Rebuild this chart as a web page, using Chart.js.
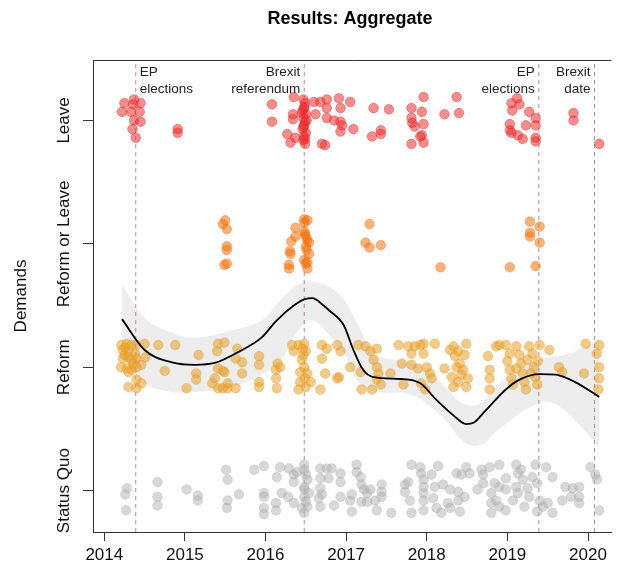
<!DOCTYPE html>
<html>
<head>
<meta charset="utf-8">
<script src="https://cdn.jsdelivr.net/npm/chart.js@4/dist/chart.umd.min.js"></script>
<style>
  html, body { margin: 0; padding: 0; background: #fff; }
  #wrap { width: 617px; height: 576px; }
</style>
</head>
<body>
<div id="wrap"><canvas id="chart" width="617" height="576"></canvas></div>
<script>
// Categories (y = 1..4) and x ticks
const categories = ['Status Quo', 'Reform', 'Reform or Leave', 'Leave'];
const xTicks = [2014, 2015, 2016, 2017, 2018, 2019, 2020];

// Key events (decimal year)
const eventDates = [2014.39, 2016.48, 2019.39, 2020.08];
const eventLabels = [['EP', 'elections'], ['Brexit', 'referendum'], ['EP', 'elections'], ['Brexit', 'date']];

// Jittered observations: [year, category value]
const leavePts = [
  [2014.25,4.14],[2014.37,4.17],[2014.45,4.14],[2014.22,4.07],[2014.33,4.07],[2014.44,4.07],
  [2014.37,4.00],[2014.45,3.99],[2014.35,3.93],[2014.39,3.86],[2014.36,4.13],
  [2014.91,3.93],[2014.91,3.90],
  [2016.08,4.13],[2016.08,3.99],[2016.35,4.19],[2016.34,4.05],[2016.34,4.01],[2016.27,3.89],
  [2016.31,3.82],[2016.37,3.86],
  [2016.47,4.17],[2016.49,4.14],[2016.48,4.11],[2016.46,4.08],[2016.50,4.05],[2016.47,4.02],
  [2016.49,3.99],[2016.48,3.96],[2016.46,3.93],[2016.50,3.90],[2016.48,3.87],[2016.47,3.84],
  [2016.49,3.81],[2016.48,4.10],[2016.47,3.95],[2016.49,3.85],[2016.51,4.00],[2016.45,4.06],
  [2016.60,4.15],[2016.62,4.05],[2016.68,4.15],[2016.76,4.17],[2016.76,4.10],[2016.76,4.02],
  [2016.91,4.18],[2016.93,4.10],[2016.93,3.99],[2016.95,3.96],[2016.93,3.91],[2017.05,4.15],
  [2016.70,3.81],[2016.74,3.80],[2016.85,4.00],[2017.09,3.93],
  [2017.34,4.10],[2017.53,4.09],[2017.32,3.87],[2017.43,3.92],[2017.43,3.89],
  [2017.81,4.10],[2017.81,4.02],[2017.82,3.98],[2017.85,3.95],[2017.96,4.19],[2017.94,4.07],
  [2017.96,3.97],[2017.94,3.88],[2017.81,3.81],[2017.96,3.82],[2017.92,3.87],
  [2018.22,4.05],[2018.37,4.19],[2018.40,4.06],
  [2019.05,4.14],[2019.12,4.18],[2019.15,4.13],[2019.06,4.08],[2019.27,4.07],[2019.35,4.02],
  [2019.03,3.97],[2019.03,3.92],[2019.23,3.96],[2019.35,3.96],[2019.13,3.88],[2019.19,3.85],
  [2019.35,3.86],[2019.35,3.83],[2019.05,3.90],
  [2019.82,4.06],[2019.82,4.00],[2020.14,3.81]
];

const reformOrLeavePts = [
  [2015.50,3.19],[2015.47,3.16],[2015.52,3.12],[2015.52,2.98],[2015.52,2.95],[2015.49,2.83],[2015.52,2.84],
  [2016.37,3.13],[2016.37,3.06],[2016.32,3.02],[2016.30,2.94],[2016.31,2.92],[2016.29,2.83],[2016.29,2.80],
  [2016.48,3.20],[2016.52,3.19],[2016.48,3.17],[2016.48,3.10],[2016.50,3.06],[2016.52,3.03],
  [2016.54,3.01],[2016.50,2.98],[2016.54,2.92],[2016.48,2.87],[2016.52,2.85],[2016.52,2.80],
  [2016.50,2.84],[2016.49,3.08],[2016.51,2.95],
  [2017.29,3.16],[2017.24,3.01],[2017.29,2.97],[2017.43,2.99],
  [2018.17,2.81],[2019.03,2.81],
  [2019.28,3.18],[2019.28,3.09],[2019.28,3.06],[2019.40,3.14],[2019.40,3.01],[2019.35,2.82]
];

const reformPts = [
  [2014.21,2.18],[2014.28,2.19],[2014.34,2.18],[2014.40,2.18],[2014.23,2.14],[2014.30,2.13],
  [2014.38,2.11],[2014.23,2.07],[2014.30,2.08],[2014.34,2.06],[2014.40,2.07],[2014.21,2.00],
  [2014.28,1.99],[2014.34,1.98],[2014.40,2.00],[2014.46,2.02],[2014.30,1.96],[2014.40,1.90],
  [2014.30,1.84],[2014.40,1.83],[2014.46,1.87],[2014.51,2.08],[2014.50,2.19],[2014.25,2.10],
  [2014.36,2.03],[2014.26,2.16],
  [2014.67,2.18],[2014.88,2.18],[2015.17,2.10],[2014.75,1.97],[2015.14,1.95],[2015.14,1.90],
  [2015.02,1.83],
  [2015.41,2.19],[2015.49,2.20],[2015.40,2.13],[2015.65,2.15],[2015.63,2.07],[2015.71,2.04],
  [2015.41,1.99],[2015.47,1.97],[2015.49,1.96],[2015.37,1.91],[2015.71,1.95],[2015.34,1.87],
  [2015.41,1.83],[2015.47,1.83],[2015.53,1.87],[2015.53,1.83],[2015.63,1.83],
  [2015.92,2.09],[2015.92,2.02],[2015.92,1.88],[2015.92,1.84],
  [2016.15,2.03],[2016.13,1.98],[2016.13,1.91],[2016.14,1.83],[2016.18,2.00],
  [2016.33,2.18],[2016.41,2.18],[2016.35,2.13],[2016.48,2.19],[2016.50,2.13],[2016.45,2.06],
  [2016.48,2.00],[2016.43,1.96],[2016.52,1.95],[2016.43,1.88],[2016.50,1.84],[2016.41,1.82],
  [2016.56,1.88],[2016.47,2.10],[2016.49,1.91],[2016.46,2.15],
  [2016.70,2.18],[2016.76,2.15],[2016.89,2.18],[2016.93,2.13],[2016.70,2.07],[2016.74,1.95],
  [2016.91,1.92],[2016.89,1.91],[2016.68,1.82],[2017.05,2.00],
  [2017.15,2.18],[2017.24,2.17],[2017.18,1.96],[2017.19,1.82],[2017.32,1.82],[2017.30,2.13],
  [2017.34,2.06],[2017.38,2.15],[2017.38,2.00],[2017.40,1.95],[2017.38,1.90],[2017.43,1.86],
  [2017.55,1.95],[2017.65,2.18],[2017.69,2.03],[2017.71,1.86],[2017.77,2.17],[2017.81,2.11],
  [2017.85,2.17],[2017.92,2.18],[2017.96,2.19],[2017.81,2.02],[2017.89,1.99],[2017.96,2.11],
  [2018.00,2.00],[2018.04,1.95],[2017.93,1.87],[2017.98,1.82],[2018.10,2.19],[2018.06,1.91],
  [2018.22,1.99],[2018.29,2.14],[2018.33,2.17],[2018.31,1.92],[2018.35,2.09],[2018.37,2.00],
  [2018.39,2.13],[2018.41,2.03],[2018.43,1.94],[2018.39,1.88],[2018.45,1.98],[2018.47,2.10],
  [2018.49,2.19],[2018.51,1.91],[2018.49,1.84],[2018.33,1.84],
  [2018.76,2.09],[2018.78,1.98],[2018.78,1.91],[2018.78,1.82],[2018.86,2.17],[2018.90,2.18],
  [2018.98,2.18],[2019.03,2.11],[2019.00,2.05],[2019.03,1.98],[2019.05,1.91],[2019.07,1.86],
  [2019.11,2.17],[2019.15,2.10],[2019.17,2.03],[2019.19,1.95],[2019.21,1.88],[2019.23,1.82],
  [2019.27,2.17],[2019.31,2.11],[2019.33,2.00],[2019.35,1.92],[2019.37,1.86],[2019.40,2.18],
  [2019.25,2.06],[2019.11,1.99],[2019.29,1.95],[2019.38,2.05],
  [2019.52,2.14],[2019.64,2.00],[2019.68,1.96],[2019.97,2.19],[2019.95,1.95],
  [2020.14,2.18],[2020.11,2.11],[2020.14,2.00],[2020.14,1.91],[2020.13,1.82]
];

const statusQuoPts = [
  [2014.28,1.02],[2014.26,0.97],[2014.27,0.84],
  [2014.66,1.07],[2014.66,0.95],[2014.66,0.88],[2015.02,1.01],[2015.16,0.96],[2015.16,0.92],
  [2015.51,1.17],[2015.53,1.09],[2015.53,0.92],[2015.52,0.86],[2015.67,0.97],
  [2015.86,1.17],[2015.98,1.20],[2015.98,0.98],[2015.98,0.95],[2015.98,0.86],[2015.98,0.81],
  [2016.13,0.90],[2016.13,0.84],[2016.14,1.11],[2016.18,1.19],[2016.20,0.98],[2016.29,1.18],
  [2016.28,0.95],[2016.35,1.13],[2016.35,1.07],[2016.35,0.90],[2016.39,1.15],
  [2016.48,1.21],[2016.48,1.17],[2016.50,1.13],[2016.52,1.09],[2016.48,1.03],[2016.48,1.01],
  [2016.48,0.95],[2016.50,0.91],[2016.45,0.86],[2016.48,0.82],[2016.52,0.87],[2016.54,0.98],
  [2016.68,1.18],[2016.76,1.18],[2016.82,1.18],[2016.68,1.10],[2016.78,1.10],[2016.93,1.14],
  [2016.93,1.07],[2016.68,1.02],[2016.70,0.97],[2016.66,0.94],[2016.85,0.88],[2016.93,0.95],
  [2016.68,0.87],
  [2017.05,0.92],[2017.07,0.83],[2017.13,1.21],[2017.13,1.15],[2017.18,1.11],[2017.07,0.97],
  [2017.19,1.05],[2017.22,1.01],[2017.19,0.91],[2017.26,0.98],[2017.26,0.91],[2017.36,0.92],
  [2017.38,0.84],[2017.44,1.05],[2017.44,0.99],[2017.44,0.95],[2017.56,0.82],[2017.30,1.01],
  [2017.73,1.05],[2017.73,0.99],[2017.77,1.07],[2017.79,0.92],[2017.81,1.21],[2017.81,0.82],
  [2017.92,1.19],[2017.93,1.14],[2017.96,1.09],[2017.96,1.03],[2017.96,0.98],[2017.96,0.92],
  [2017.96,0.84],[2018.06,1.13],[2018.14,1.20],[2018.08,0.94],[2018.12,0.86],[2018.18,0.82],
  [2018.10,1.03],[2018.20,1.05],[2018.29,1.01],[2018.26,0.90],[2018.29,0.86],[2018.37,1.14],
  [2018.39,0.99],[2018.39,0.92],[2018.41,0.83],[2018.43,1.13],[2018.49,1.19],[2018.53,1.14],
  [2018.47,0.95],
  [2018.63,1.01],[2018.68,1.17],[2018.70,1.13],[2018.70,1.06],[2018.78,1.19],[2018.80,0.98],
  [2018.80,0.90],[2018.80,0.82],[2018.90,1.21],[2018.84,1.06],[2018.90,1.03],[2018.90,0.87],
  [2018.98,1.10],[2018.98,0.84],[2018.98,1.01],[2018.86,0.92],
  [2019.07,0.92],[2019.11,1.21],[2019.13,1.14],[2019.11,1.03],[2019.13,0.98],[2019.17,1.17],
  [2019.19,1.09],[2019.21,0.87],[2019.25,1.02],[2019.27,0.95],[2019.31,1.11],[2019.35,1.21],
  [2019.37,1.06],[2019.37,0.83],[2019.40,0.92],[2019.48,1.19],[2019.44,0.87],[2019.56,1.11],
  [2019.56,0.82],[2019.50,0.90],
  [2019.68,0.92],[2019.72,1.03],[2019.81,1.02],[2019.79,0.95],[2019.89,1.03],[2019.89,0.95],
  [2019.89,0.90],[2020.03,1.19],[2020.09,1.13],[2020.11,1.09],[2020.14,0.84]
];

// Smoothed trend and its confidence band
const curveYears  = [2014.22,2014.50,2014.84,2015.12,2015.37,2015.65,2015.95,2016.14,2016.35,2016.48,2016.58,2016.72,2016.79,2016.97,2017.09,2017.21,2017.34,2017.67,2017.92,2018.12,2018.33,2018.49,2018.58,2018.73,2018.98,2019.15,2019.40,2019.60,2019.84,2020.14];
const curveValues = [2.39,2.14,2.04,2.02,2.035,2.12,2.24,2.38,2.50,2.55,2.56,2.50,2.46,2.34,2.14,1.98,1.92,1.905,1.87,1.735,1.61,1.54,1.55,1.65,1.82,1.90,1.945,1.94,1.88,1.76];

const bandYears = [2014.22,2014.50,2014.84,2015.12,2015.53,2015.95,2016.19,2016.41,2016.58,2016.79,2016.97,2017.15,2017.38,2017.80,2018.12,2018.26,2018.47,2018.67,2018.88,2019.29,2019.50,2019.71,2019.95,2020.14];
const bandUpper = [2.67,2.40,2.28,2.24,2.29,2.38,2.55,2.67,2.69,2.65,2.55,2.34,2.10,2.04,1.91,1.82,1.70,1.71,1.86,2.04,2.08,2.10,2.16,2.22];
const bandLower = [2.10,1.87,1.80,1.80,1.83,1.94,2.06,2.30,2.38,2.26,2.12,1.88,1.80,1.78,1.64,1.55,1.39,1.37,1.49,1.68,1.72,1.65,1.49,1.35];

const xMin = 2013.86, xMax = 2020.29;
const yMin = 0.665, yMax = 4.49;

const FONT = "'Liberation Sans', Arial, Helvetica, sans-serif";

const toXY = arr => arr.map(p => ({ x: p[0], y: p[1] }));
const zipXY = (xs, ys) => xs.map((x, i) => ({ x, y: ys[i] }));

function pointSet(data, fill, border) {
  return {
    type: 'scatter',
    data: toXY(data),
    backgroundColor: fill,
    borderColor: border,
    borderWidth: 0.8,
    pointRadius: 4.8,
    order: 5,
  };
}

const eventSets = eventDates.map(d => ({
  type: 'line',
  data: [{ x: d, y: yMin }, { x: d, y: yMax }],
  borderColor: 'rgba(185,120,125,0.9)',
  borderWidth: 1,
  borderDash: [4, 4],
  pointRadius: 0,
  fill: false,
  order: 8,
}));

const textPlugin = {
  id: 'texts',
  afterDraw(chart) {
    const { ctx, chartArea: a, scales: { x, y } } = chart;
    ctx.save();

    // top frame line
    ctx.strokeStyle = '#333';
    ctx.lineWidth = 1;
    ctx.beginPath();
    ctx.moveTo(a.left, a.top + 0.5);
    ctx.lineTo(a.right, a.top + 0.5);
    ctx.stroke();

    // title
    ctx.fillStyle = '#000';
    ctx.font = `bold 18px ${FONT}`;
    ctx.textAlign = 'center';
    ctx.textBaseline = 'middle';
    ctx.fillText('Results: Aggregate', 350, 19);

    // event labels
    ctx.font = `13.5px ${FONT}`;
    ctx.fillStyle = '#222';
    eventDates.forEach((d, i) => {
      const px = x.getPixelForValue(d);
      const left = i === 0;
      ctx.textAlign = left ? 'left' : 'right';
      const tx = left ? px + 4 : px - 4;
      ctx.fillText(eventLabels[i][0], tx, a.top + 12);
      ctx.fillText(eventLabels[i][1], tx, a.top + 29);
    });

    // rotated category labels and axis title
    ctx.font = `17px ${FONT}`;
    ctx.fillStyle = '#111';
    ctx.textAlign = 'center';
    categories.forEach((c, i) => {
      const py = y.getPixelForValue(i + 1);
      ctx.save();
      ctx.translate(64, py);
      ctx.rotate(-Math.PI / 2);
      ctx.fillText(c, 0, 0);
      ctx.restore();
    });
    ctx.save();
    ctx.translate(21, (a.top + a.bottom) / 2);
    ctx.rotate(-Math.PI / 2);
    ctx.fillText('Demands', 0, 0);
    ctx.restore();

    ctx.restore();
  }
};

new Chart(document.getElementById('chart'), {
  type: 'scatter',
  data: {
    datasets: [
      {
        type: 'line',
        data: zipXY(bandYears, bandUpper),
        borderWidth: 0,
        borderColor: 'rgba(0,0,0,0)',
        backgroundColor: 'rgba(235,235,235,0.9)',
        pointRadius: 0,
        tension: 0.4,
        fill: '+1',
        order: 10,
      },
      {
        type: 'line',
        data: zipXY(bandYears, bandLower),
        borderWidth: 0,
        borderColor: 'rgba(0,0,0,0)',
        pointRadius: 0,
        tension: 0.4,
        fill: false,
        order: 10,
      },
      ...eventSets,
      pointSet(statusQuoPts, 'rgba(178,178,178,0.5)', 'rgba(170,170,170,0.4)'),
      pointSet(reformPts, 'rgba(234,160,40,0.55)', 'rgba(228,152,35,0.45)'),
      pointSet(reformOrLeavePts, 'rgba(245,115,10,0.55)', 'rgba(238,105,5,0.45)'),
      pointSet(leavePts, 'rgba(240,45,45,0.55)', 'rgba(225,35,35,0.5)'),
      {
        type: 'line',
        data: zipXY(curveYears, curveValues),
        borderColor: '#000',
        borderWidth: 1.8,
        pointRadius: 0,
        tension: 0.4,
        cubicInterpolationMode: 'monotone',
        fill: false,
        order: 1,
      },
    ],
  },
  options: {
    responsive: false,
    animation: false,
    layout: { padding: { left: 0, right: 3, top: 60, bottom: 0 } },
    plugins: { legend: { display: false }, tooltip: { enabled: false }, title: { display: false } },
    scales: {
      x: {
        type: 'linear',
        min: xMin,
        max: xMax,
        afterBuildTicks: s => { s.ticks = xTicks.map(v => ({ value: v })); },
        afterFit: s => { s.height = 44; },
        grid: { drawOnChartArea: false, drawTicks: true, tickLength: 9, color: '#333' },
        border: { display: true, color: '#333', width: 1 },
        ticks: {
          autoSkip: false,
          maxRotation: 0,
          padding: 4,
          color: '#111',
          font: { family: FONT, size: 17 },
          callback: v => String(v),
        },
      },
      y: {
        type: 'linear',
        min: yMin,
        max: yMax,
        afterBuildTicks: s => { s.ticks = categories.map((c, i) => ({ value: i + 1 })); },
        afterFit: s => { s.width = 93; },
        grid: { drawOnChartArea: false, drawTicks: true, tickLength: 10, color: '#333' },
        border: { display: true, color: '#333', width: 1 },
        ticks: { display: false },
      },
    },
  },
  plugins: [textPlugin],
});
</script>
</body>
</html>
